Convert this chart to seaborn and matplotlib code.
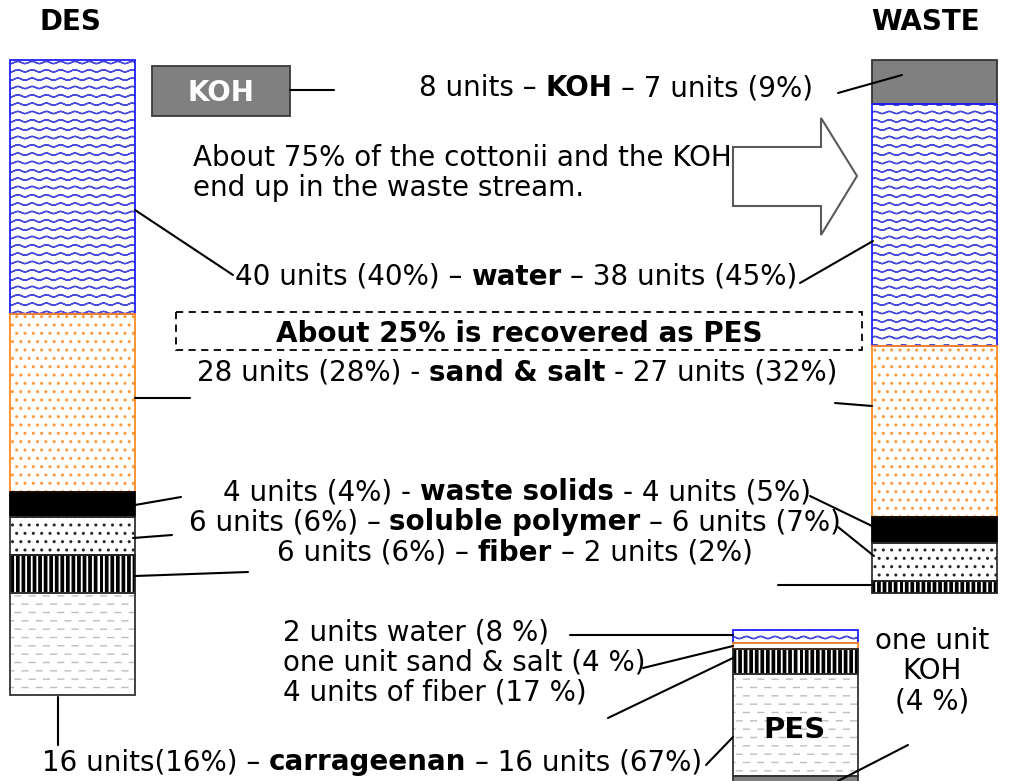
import warnings
import numpy as np
import matplotlib
matplotlib.use("Agg")
import matplotlib.pyplot as plt
import matplotlib.hatch as mhatch
from matplotlib.path import Path
from matplotlib.patches import Rectangle, Polygon
from matplotlib.offsetbox import TextArea, HPacker, AnnotationBbox
import seaborn as sns

warnings.filterwarnings("ignore")

# data (units per stream)
components = ["KOH", "water", "sand & salt", "waste solids",
              "soluble polymer", "fiber", "carrageenan"]
des_units = [0, 40, 28, 4, 6, 6, 16]
waste_units = [7, 38, 27, 4, 6, 2, 0]
pes_parts = ["water", "sand & salt", "fiber", "carrageenan", "KOH"]
pes_units = [2, 1, 4, 16, 1]
koh_added = 8


# extra hatch patterns: waves (~), short dashes (_), thick stripes (I)
class WaveHatch(mhatch.HatchPatternBase):
    def __init__(self, hatch, density):
        self.num_rows = int(hatch.count("~") * density)
        self.n = 71
        self.num_vertices = self.num_rows * self.n * 2

    def set_vertices_and_codes(self, vertices, codes):
        x = np.linspace(0, 1, self.n)
        wave = 0.011 * np.sin(2 * np.pi * 7 * x)
        for i in range(self.num_rows):
            y = (i + 0.5) / self.num_rows + wave
            s = slice(i * 2 * self.n, (i + 1) * 2 * self.n)
            vertices[s, 0] = np.r_[x, x[::-1]]
            vertices[s, 1] = np.r_[y, y[::-1]]
            codes[s] = Path.LINETO
            codes[s.start] = Path.MOVETO


class DashHatch(mhatch.HatchPatternBase):
    def __init__(self, hatch, density):
        self.num_rows = int(hatch.count("_") * density)
        self.per_row = 7
        self.num_vertices = self.num_rows * self.per_row * 2

    def set_vertices_and_codes(self, vertices, codes):
        k = 0
        for i in range(self.num_rows):
            y = (i + 0.5) / self.num_rows
            shift = 0.5 / self.per_row if i % 2 else 0.0
            for j in range(self.per_row):
                x0 = (j + 0.05) / self.per_row + shift
                vertices[k] = (x0, y)
                vertices[k + 1] = (x0 + 0.4 / self.per_row, y)
                codes[k] = Path.MOVETO
                codes[k + 1] = Path.LINETO
                k += 2


class StripeHatch(mhatch.HatchPatternBase):
    def __init__(self, hatch, density):
        self.num = int(hatch.count("I") * density)
        self.num_vertices = self.num * 5

    def set_vertices_and_codes(self, vertices, codes):
        w = 0.42 / max(self.num, 1)
        for i in range(self.num):
            x0 = i / self.num
            vertices[i * 5:(i + 1) * 5] = [(x0, -0.01), (x0 + w, -0.01),
                                           (x0 + w, 1.01), (x0, 1.01), (x0, -0.01)]
            codes[i * 5:(i + 1) * 5] = [Path.MOVETO, Path.LINETO, Path.LINETO,
                                        Path.LINETO, Path.CLOSEPOLY]


mhatch._hatch_types.extend([WaveHatch, DashHatch, StripeHatch])

styles = {
    "KOH": dict(face="#808080", hatch=None, hc="#808080", edge="#333333"),
    "water": dict(face="white", hatch="~~", hc="#4b4bdc", edge="#1f1fff"),
    "sand & salt": dict(face="white", hatch="..", hc="#ff9a3c", edge="#ff8a1f"),
    "waste solids": dict(face="black", hatch=None, hc="black", edge="black"),
    "soluble polymer": dict(face="white", hatch="..", hc="#262626", edge="#333333"),
    "fiber": dict(face="white", hatch="III", hc="black", edge="#222222"),
    "carrageenan": dict(face="white", hatch="__", hc="#bdbdbd", edge="#333333"),
}

sns.set_theme(style="white")
plt.rcParams["font.family"] = ["DejaVu Sans"]
plt.rcParams["text.color"] = "black"
FS = 20
PX = 6.35
BAR_W = 125

fig = plt.figure(figsize=(10.11, 7.81), dpi=100)
ax = fig.add_axes([0, 0, 1, 1])
ax.set_xlim(0, 1011)
ax.set_ylim(781, 0)
ax.axis("off")


def stack(xc, top, names, units):
    units = np.asarray(units, dtype=float)
    bottoms = top + np.r_[0, np.cumsum(units)[:-1]] * PX
    for name, u, b in zip(names, units, bottoms):
        if u == 0:
            continue
        st = styles[name]
        ax.bar(xc, u * PX, bottom=b, width=BAR_W, color=st["face"],
               edgecolor=st["hc"], hatch=st["hatch"], linewidth=0, zorder=2)
        ax.bar(xc, u * PX, bottom=b, width=BAR_W, fill=False,
               edgecolor=st["edge"], linewidth=1.3, zorder=3)


stack(72.5, 60, components, des_units)
stack(934.5, 60, components, waste_units)
stack(795, 630, pes_parts, pes_units)


def mixed(x, y, parts, size=FS):
    boxes = [TextArea(t, textprops=dict(size=size, weight=w, color="black"))
             for t, w in parts]
    pack = HPacker(children=boxes, pad=0, sep=0.318 * size, align="baseline")
    ab = AnnotationBbox(pack, (x, y), xycoords="data", frameon=False,
                        box_alignment=(0.5, 0.5), pad=0, zorder=5)
    ax.add_artist(ab)


# headers
ax.text(70, 22, "DES", ha="center", va="center", size=FS, weight="bold")
ax.text(925, 22, "WASTE", ha="center", va="center", size=FS, weight="bold")

# KOH box
ax.add_patch(Rectangle((152, 66), 138, 50, facecolor="#808080",
                       edgecolor="#3a3a3a", linewidth=1.3, zorder=2))
ax.text(221, 93, "KOH", ha="center", va="center", size=FS, weight="bold",
        color="white", zorder=4)

# block arrow
ax.add_patch(Polygon([(733, 147), (821, 147), (821, 118), (857, 176),
                      (821, 235), (821, 206), (733, 206)], closed=True,
                     facecolor="white", edgecolor="#5a5a5a", linewidth=1.5, zorder=2))

# dashed box
ax.add_patch(Rectangle((176, 312), 686, 38, fill=False, edgecolor="black",
                       linewidth=1.3, linestyle=(0, (4, 3)), zorder=2))

# labels
mixed(616, 88, [(f"{koh_added} units –", "normal"), ("KOH", "bold"),
                (f"– {waste_units[0]} units (9%)", "normal")])
ax.text(193, 173, "About 75% of the cottonii and the KOH\nend up in the waste stream.",
        ha="left", va="center", size=FS, linespacing=1.1)
mixed(516, 277, [(f"{des_units[1]} units (40%) –", "normal"), ("water", "bold"),
                 (f"– {waste_units[1]} units (45%)", "normal")])
ax.text(519, 334, "About 25% is recovered as PES", ha="center", va="center",
        size=FS, weight="bold")
mixed(517, 373, [(f"{des_units[2]} units (28%) -", "normal"), ("sand & salt", "bold"),
                 (f"- {waste_units[2]} units (32%)", "normal")])
mixed(517, 492, [(f"{des_units[3]} units (4%) -", "normal"), ("waste solids", "bold"),
                 (f"- {waste_units[3]} units (5%)", "normal")])
mixed(515, 522, [(f"{des_units[4]} units (6%) –", "normal"), ("soluble polymer", "bold"),
                 (f"– {waste_units[4]} units (7%)", "normal")])
mixed(515, 553, [(f"{des_units[5]} units (6%) –", "normal"), ("fiber", "bold"),
                 (f"– {waste_units[5]} units (2%)", "normal")])
mixed(372, 762, [(f"{des_units[6]} units(16%) –", "normal"), ("carrageenan", "bold"),
                 (f"– {pes_units[3]} units (67%)", "normal")])

ax.text(283, 632, f"{pes_units[0]} units water (8 %)", ha="left", va="center", size=FS)
ax.text(283, 662, "one unit sand & salt (4 %)", ha="left", va="center", size=FS)
ax.text(283, 692, f"{pes_units[2]} units of fiber (17 %)", ha="left", va="center", size=FS)
ax.text(932, 671, "one unit\nKOH\n(4 %)", ha="center", va="center", size=FS,
        linespacing=1.1)
ax.text(795, 730, "PES", ha="center", va="center", size=FS + 1, weight="bold", zorder=5)

# leader lines
leaders = [
    ((290, 90), (334, 90)), ((838, 93), (902, 75)),
    ((135, 210), (233, 275)), ((800, 283), (873, 241)),
    ((135, 398), (190, 398)), ((835, 403), (872, 406)),
    ((135, 505), (181, 497)), ((810, 496), (872, 526)),
    ((133, 538), (172, 535)), ((838, 527), (874, 556)),
    ((135, 576), (248, 572)), ((778, 585), (872, 585)),
    ((58, 697), (58, 745)),
    ((570, 635), (733, 635)), ((643, 668), (733, 646)),
    ((608, 718), (735, 657)), ((706, 765), (733, 737)),
    ((838, 781), (908, 745)),
]
for (x0, y0), (x1, y1) in leaders:
    ax.plot([x0, x1], [y0, y1], color="black", linewidth=1.5, zorder=6)

fig.savefig("out.png", dpi=100)
